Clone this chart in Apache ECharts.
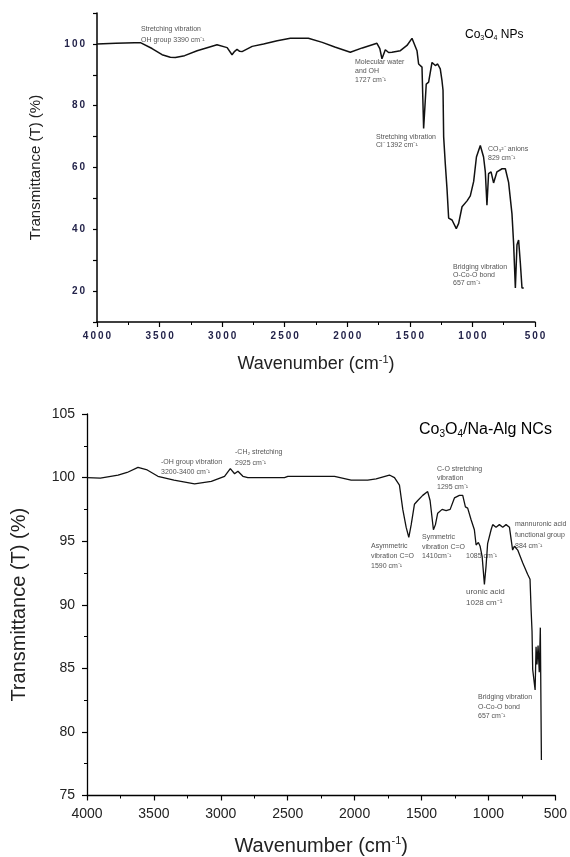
<!DOCTYPE html>
<html>
<head>
<meta charset="utf-8">
<script src="https://cdn.jsdelivr.net/npm/echarts@6/dist/echarts.min.js"></script>
<style>
html, body { margin: 0; padding: 0; background: #fff; }
#main { width: 570px; height: 857px; }
</style>
</head>
<body>
<div id="main"></div>
<script>
// Co3O4 NPs spectrum
var npsWavenumber = [4000, 3850, 3700, 3653, 3560, 3480, 3414, 3374, 3300, 3200, 3100, 3041, 2960, 2921, 2900, 2881, 2860, 2841, 2760, 2669,
    2560, 2455, 2311, 2200, 2100, 1976, 1880, 1763, 1740, 1723, 1696, 1670, 1643, 1576, 1523, 1483, 1470, 1443, 1430, 1403,
    1390, 1369, 1350, 1323, 1310, 1296, 1278, 1257, 1243, 1235, 1230, 1217, 1203, 1190, 1163, 1129, 1110, 1083, 1043, 1017,
    990, 968, 937, 911, 897, 884, 871, 851, 831, 804, 763, 737, 711, 684, 671, 657, 644, 631, 617, 604, 590];
var npsTransmittance = [100.0, 100.2, 100.4, 100.4, 98.5, 96.5, 95.7, 95.6, 96.2, 97.8, 99.0, 99.7, 98.8, 96.5, 97.6, 98.2, 97.6, 97.5, 99.2, 100.0,
    101.0, 101.8, 101.8, 100.5, 99.0, 97.3, 98.7, 100.2, 98.5, 95.2, 98.1, 97.2, 97.3, 97.8, 99.5, 101.8, 101.9, 97.8, 93.5, 92.5,
    72.6, 87.0, 87.6, 94.0, 94.3, 93.0, 93.5, 91.9, 88.0, 85.0, 70.0, 61.3, 53.0, 43.6, 43.0, 40.2, 41.9, 47.3, 49.2, 50.8,
    55.5, 63.4, 67.1, 63.4, 58.6, 47.8, 58.0, 58.6, 55.0, 58.6, 59.6, 59.6, 55.2, 45.0, 35.5, 21.0, 35.0, 36.5, 29.0, 21.0, 21.0];

// Co3O4/Na-Alg NCs spectrum
var ncsWavenumber = [4000, 3900, 3768, 3700, 3619, 3550, 3470, 3350, 3196, 3071, 2972, 2929, 2897, 2872, 2835, 2798, 2524, 2499, 2150, 2026,
    1964, 1902, 1839, 1740, 1702, 1665, 1640, 1615, 1595, 1577, 1553, 1528, 1491, 1454, 1436, 1411, 1396, 1379, 1346, 1316,
    1286, 1254, 1217, 1192, 1172, 1155, 1130, 1105, 1092, 1075, 1062, 1047, 1030, 1018, 1006, 980, 968, 943, 918, 893,
    868, 843, 831, 819, 806, 781, 744, 707, 689, 681, 674, 669, 657, 651, 644, 637, 629, 620, 612, 604];
var ncsTransmittance = [100.0, 99.95, 100.2, 100.4, 100.8, 100.6, 100.1, 99.8, 99.5, 99.7, 100.1, 100.7, 100.3, 100.5, 100.1, 100.0, 100.0, 100.1, 100.1, 99.8,
    99.8, 99.8, 99.9, 100.2, 100.0, 99.4, 97.5, 96.1, 95.3, 96.3, 97.9, 98.2, 98.6, 98.9, 98.2, 95.9, 96.3, 97.2, 97.5, 97.4,
    97.5, 98.4, 98.6, 98.6, 97.7, 97.6, 96.7, 95.9, 94.7, 94.9, 94.6, 93.8, 91.6, 93.0, 94.8, 95.9, 96.3, 96.1, 96.3, 96.1,
    96.3, 96.1, 95.2, 94.3, 94.6, 94.3, 93.3, 92.4, 92.0, 89.6, 87.9, 84.9, 84.9, 83.3, 86.7, 85.3, 86.8, 84.7, 88.2, 77.8];

var xTickLabels = [4000, 3500, 3000, 2500, 2000, 1500, 1000, 500];
var npsYTickLabels = [20, 40, 60, 80, 100];
var ncsYTickLabels = [75, 80, 85, 90, 95, 100, 105];

var FONT = 'Liberation Sans, Arial, sans-serif';

function pairs(xs, ys) {
    return xs.map(function (x, i) { return [x, ys[i]]; });
}
// spaced digits like the upper panel's tick labels
function spaced(v) {
    return String(v).split('').join('\u2009');
}

var charts = echarts.init(document.getElementById('main'), null, { renderer: 'canvas' });

var supRich = {
    sup: { fontSize: 11, fontFamily: FONT, color: '#222', verticalAlign: 'top', padding: [0, 0, 10, 0] }
};

var noteStyle = function (text, x, y, lh, size) {
    return {
        type: 'text',
        x: x,
        y: y,
        style: {
            text: text,
            fill: '#555',
            font: (size || 7) + 'px ' + FONT,
            lineHeight: lh,
            textVerticalAlign: 'middle'
        }
    };
};

var option = {
    backgroundColor: '#fff',
    animation: false,
    grid: [
        { left: 97, top: 13, width: 438, height: 309 },
        { left: 87, top: 414, width: 469, height: 382 }
    ],
    xAxis: [
        {
            gridIndex: 0,
            type: 'value',
            inverse: true,
            min: 500,
            max: 4000,
            interval: 500,
            name: 'Wavenumber (cm{sup|-1})',
            nameLocation: 'middle',
            nameGap: 32,
            nameTextStyle: { fontSize: 18, fontFamily: FONT, color: '#222', rich: supRich },
            axisLine: { lineStyle: { color: '#000', width: 1.5 } },
            axisTick: { length: 5, lineStyle: { color: '#000', width: 1.2 } },
            minorTick: { show: true, splitNumber: 2, length: 3, lineStyle: { color: '#000', width: 1 } },
            splitLine: { show: false },
            axisLabel: {
                margin: 9,
                fontSize: 10,
                fontWeight: 'bold',
                fontFamily: FONT,
                color: '#23234a',
                formatter: function (v) { return xTickLabels.indexOf(v) >= 0 ? spaced(v) : ''; }
            }
        },
        {
            gridIndex: 1,
            type: 'value',
            inverse: true,
            min: 500,
            max: 4000,
            interval: 500,
            name: 'Wavenumber (cm{sup|-1})',
            nameLocation: 'middle',
            nameGap: 40,
            nameTextStyle: { fontSize: 20, fontFamily: FONT, color: '#222', rich: supRich },
            axisLine: { lineStyle: { color: '#000', width: 1.3 } },
            axisTick: { length: 5, lineStyle: { color: '#000', width: 1.2 } },
            minorTick: { show: true, splitNumber: 2, length: 3, lineStyle: { color: '#000', width: 1 } },
            splitLine: { show: false },
            axisLabel: {
                margin: 12,
                fontSize: 14,
                fontFamily: FONT,
                color: '#222',
                formatter: function (v) { return xTickLabels.indexOf(v) >= 0 ? String(v) : ''; }
            }
        }
    ],
    yAxis: [
        {
            gridIndex: 0,
            type: 'value',
            min: 10,
            max: 110,
            interval: 10,
            name: 'Transmittance (T) (%)',
            nameLocation: 'middle',
            nameGap: 54,
            nameTextStyle: { fontSize: 15, fontFamily: FONT, color: '#222' },
            axisLine: { show: true, lineStyle: { color: '#000', width: 1.5 } },
            axisTick: { length: 4, lineStyle: { color: '#000', width: 1.2 } },
            splitLine: { show: false },
            axisLabel: {
                margin: 12,
                fontSize: 10,
                fontWeight: 'bold',
                fontFamily: FONT,
                color: '#23234a',
                formatter: function (v) { return npsYTickLabels.indexOf(v) >= 0 ? spaced(v) : ''; }
            }
        },
        {
            gridIndex: 1,
            type: 'value',
            min: 75,
            max: 105,
            interval: 5,
            name: 'Transmittance (T) (%)',
            nameLocation: 'middle',
            nameGap: 58,
            nameTextStyle: { fontSize: 20, fontFamily: FONT, color: '#222' },
            axisLine: { show: true, lineStyle: { color: '#000', width: 1.3 } },
            axisTick: { length: 5, lineStyle: { color: '#000', width: 1.2 } },
            minorTick: { show: true, splitNumber: 2, length: 3, lineStyle: { color: '#000', width: 1 } },
            splitLine: { show: false },
            axisLabel: {
                margin: 12,
                fontSize: 14,
                fontFamily: FONT,
                color: '#222',
                formatter: function (v) { return ncsYTickLabels.indexOf(v) >= 0 ? String(v) : ''; }
            }
        }
    ],
    series: [
        {
            name: 'Co3O4 NPs',
            type: 'line',
            xAxisIndex: 0,
            yAxisIndex: 0,
            showSymbol: false,
            lineStyle: { color: '#111', width: 1.5 },
            data: pairs(npsWavenumber, npsTransmittance)
        },
        {
            name: 'Co3O4/Na-Alg NCs',
            type: 'line',
            xAxisIndex: 1,
            yAxisIndex: 1,
            showSymbol: false,
            lineStyle: { color: '#111', width: 1.3 },
            data: pairs(ncsWavenumber, ncsTransmittance)
        }
    ],
    graphic: [
        {
            type: 'text', x: 465, y: 35,
            style: {
                text: '{b|Co}{s|3}{b|O}{s|4}{b| NPs}',
                textVerticalAlign: 'middle',
                rich: {
                    b: { fontSize: 12, fontFamily: FONT, color: '#222' },
                    s: { fontSize: 7, fontFamily: FONT, color: '#222', verticalAlign: 'bottom', padding: [6, 0, 0, 0] }
                }
            }
        },
        noteStyle('Stretching vibration\nOH group 3390 cm\u207B\u00B9', 141, 35, 11),
        noteStyle('Molecular water\nand OH\n1727 cm\u207B\u00B9', 355, 71, 8.7),
        noteStyle('Stretching vibration\nCl\u207B 1392 cm\u207B\u00B9', 376, 141, 8.5),
        noteStyle('CO\u2083\u00B2\u207B anions\n829 cm\u207B\u00B9', 488, 154, 9),
        noteStyle('Bridging vibration\nO-Co-O bond\n657 cm\u207B\u00B9', 453, 275, 7.6),
        {
            type: 'text', x: 419, y: 430,
            style: {
                text: '{b|Co}{s|3}{b|O}{s|4}{b|/Na-Alg NCs}',
                textVerticalAlign: 'middle',
                rich: {
                    b: { fontSize: 16, fontFamily: FONT, color: '#222' },
                    s: { fontSize: 10, fontFamily: FONT, color: '#222', verticalAlign: 'bottom', padding: [8, 0, 0, 0] }
                }
            }
        },
        noteStyle('-OH group vibration\n3200-3400 cm\u207B\u00B9', 161, 467, 10),
        noteStyle('-CH\u2082 stretching\n2925 cm\u207B\u00B9', 235, 458, 11),
        noteStyle('C-O stretching\nvibration\n1295 cm\u207B\u00B9', 437, 478, 9),
        noteStyle('Asymmetric\nvibration C=O\n1590 cm\u207B\u00B9', 371, 556, 10),
        noteStyle('Symmetric\nvibration C=O\n1410cm\u207B\u00B9', 422, 547, 9.5),
        noteStyle('1085 cm\u207B\u00B9', 466, 556, 9),
        noteStyle('uronic acid\n1028 cm\u207B\u00B9', 466, 597, 11, 8),
        noteStyle('mannuronic acid\nfunctional group\n884 cm\u207B\u00B9', 515, 535, 11),
        noteStyle('Bridging vibration\nO-Co-O bond\n657 cm\u207B\u00B9', 478, 707, 9.5)
    ]
};

//渲染图表
if (option && typeof option === "object") {
    charts.setOption(option, true);
}
</script>
</body>
</html>
